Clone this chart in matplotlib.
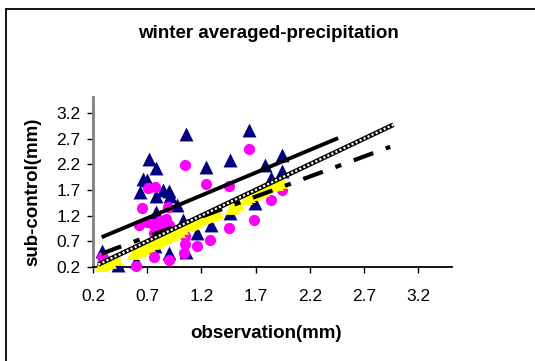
import matplotlib
matplotlib.use("Agg")
import matplotlib.pyplot as plt
from matplotlib.patches import Rectangle

plt.rcParams['font.family'] = ['Liberation Sans', 'DejaVu Sans']

# sub-control (navy triangles)
navy_x = [0.28, 0.43, 0.60, 0.72, 0.78, 0.66, 0.70, 0.63, 0.78, 0.85, 0.90, 0.91,
          0.97, 0.78, 1.06, 1.24, 1.46, 1.64, 1.79, 1.94, 1.94, 1.84, 1.69, 1.46,
          1.29, 1.16, 1.03, 0.77, 0.90, 1.06]
navy_y = [0.52, 0.23, 0.31, 2.30, 2.12, 1.91, 1.90, 1.66, 1.59, 1.69, 1.68, 1.58,
          1.41, 1.27, 2.78, 2.15, 2.29, 2.87, 2.19, 2.39, 2.06, 1.93, 1.44, 1.25,
          1.01, 0.87, 1.11, 0.61, 0.47, 0.50]

# magenta circles
pink_x = [0.28, 0.28, 0.60, 0.65, 0.71, 0.77, 0.62, 0.70, 0.77, 0.82, 0.85, 0.90,
          0.89, 1.05, 1.24, 1.45, 1.64, 1.94, 1.84, 1.68, 1.45, 1.28, 1.16, 1.05,
          1.05, 1.04, 0.90, 0.76, 0.75, 0.76, 0.87]
pink_y = [0.40, 0.24, 0.22, 1.34, 1.74, 1.76, 1.01, 1.07, 1.00, 1.09, 0.93, 1.02,
          1.37, 2.18, 1.81, 1.77, 2.50, 1.70, 1.50, 1.12, 0.95, 0.73, 0.60, 0.80,
          0.64, 0.47, 0.34, 0.39, 1.03, 0.86, 1.14]

# yellow triangles
yel_x = [0.27, 0.29, 0.32, 0.36, 0.42, 0.57, 0.60, 0.63, 0.66, 0.69, 0.72, 0.75,
         0.78, 0.81, 0.84, 0.87, 0.90, 0.93, 0.96, 0.99, 1.02, 1.06, 1.09, 1.12,
         1.16, 1.19, 1.22, 1.26, 1.30, 1.34, 1.47, 1.50, 1.54, 1.61, 1.64, 1.68,
         1.72, 1.77, 1.81, 1.85, 1.90, 1.94]
yel_y = [0.23, 0.24, 0.27, 0.30, 0.35, 0.48, 0.51, 0.54, 0.57, 0.60, 0.63, 0.66,
         0.69, 0.72, 0.75, 0.79, 0.82, 0.85, 0.88, 0.91, 0.95, 1.01, 1.04, 1.06,
         1.10, 1.13, 1.17, 1.20, 1.24, 1.27, 1.34, 1.37, 1.43, 1.55, 1.59, 1.63,
         1.66, 1.70, 1.75, 1.79, 1.82, 1.86]

# trend lines (endpoints)
solid_x = [0.28, 2.46]
solid_y = [0.78, 2.71]
dashdot_x = [0.28, 2.94]
dashdot_y = [0.46, 2.54]
one_x = [0.25, 2.97]
one_y = [0.25, 2.97]

ticks = [0.2, 0.7, 1.2, 1.7, 2.2, 2.7, 3.2]

fig = plt.figure(figsize=(5.35, 3.61), dpi=100)
ax = fig.add_axes([93 / 535, 1 - 267 / 361, (452 - 93) / 535, (267 - 97) / 361])

ax.scatter(navy_x, navy_y, marker='^', s=100, color='#000080', zorder=3, linewidths=0,
           clip_on=False)
ax.scatter(pink_x, pink_y, marker='o', s=65, color='#FF00FF', zorder=4, linewidths=0,
           clip_on=False)
ax.scatter(yel_x, yel_y, marker='^', s=85, color='#FFFF00', zorder=5, linewidths=0,
           clip_on=False)

ax.plot(solid_x, solid_y, color='black', lw=2.8, solid_capstyle='butt', zorder=6)
ax.plot(dashdot_x, dashdot_y, color='black', lw=3.0, dashes=(5, 3.2, 1.5, 3.2),
        dash_capstyle='butt', zorder=6)
ax.plot(one_x, one_y, color='black', lw=3.4, solid_capstyle='butt', zorder=7)
ax.plot(one_x, one_y, color='white', lw=1.6, dashes=(1, 1),
        dash_capstyle='butt', zorder=8)

ax.set_xlim(0.2, 3.51)
ax.set_ylim(0.2, 3.51)
ax.set_xticks(ticks)
ax.set_yticks(ticks)
ax.set_xticklabels([f"{t:.1f}" for t in ticks])
ax.set_yticklabels([f"{t:.1f}" for t in ticks])
ax.tick_params(axis='both', labelsize=12.5, length=4, width=1, direction='out', pad=5)
ax.tick_params(axis='x', pad=12)

for s in ['top', 'right']:
    ax.spines[s].set_visible(False)
ax.spines['left'].set_color('#808080')
ax.spines['left'].set_linewidth(2)
ax.spines['bottom'].set_color('black')
ax.spines['bottom'].set_linewidth(1.3)

fig.text(268 / 535, 1 - 33 / 361, "winter averaged-precipitation", ha='center', va='center',
         fontsize=13.5, fontweight='bold')
fig.text(266 / 535, 1 - 333 / 361, "observation(mm)", ha='center', va='center',
         fontsize=13.5, fontweight='bold')
fig.text(33 / 535, 1 - 192 / 361, "sub-control(mm)", ha='center', va='center',
         rotation=90, fontsize=13.5, fontweight='bold')

fig.patches.append(Rectangle((6 / 535, -0.2), 1.5, 1.2 - 9 / 361, transform=fig.transFigure,
                             fill=False, edgecolor='black', lw=1.3, clip_on=False))

fig.savefig("out.png", dpi=100)
